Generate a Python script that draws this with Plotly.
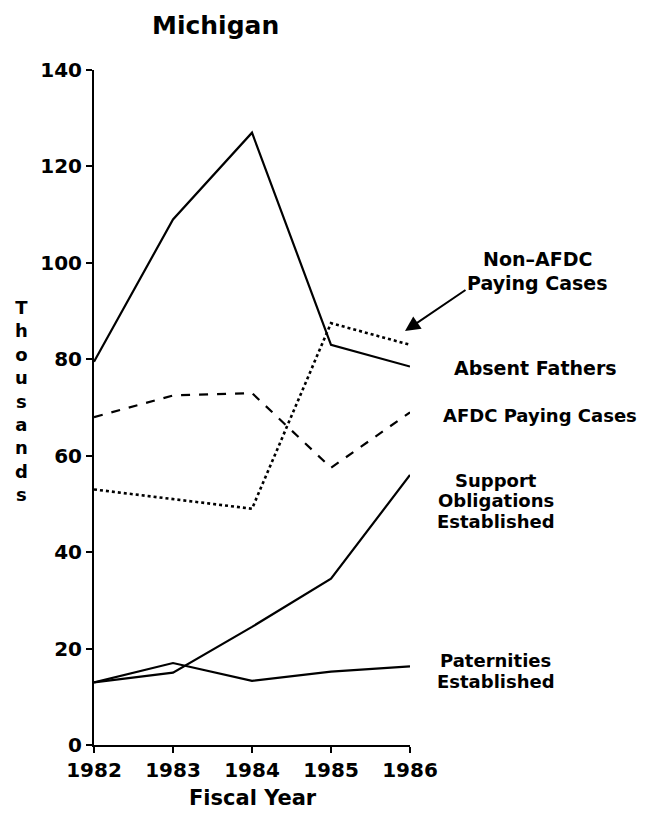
import plotly.graph_objects as go

years = [1982, 1983, 1984, 1985, 1986]
absent_fathers = [79.5, 109, 127, 83, 78.5]
afdc_paying = [68, 72.5, 73, 57.5, 69]
non_afdc_paying = [53, 51, 49, 87.5, 83]
support_obligations = [13, 15, 24.5, 34.5, 56]
paternities = [13, 17, 13.3, 15.2, 16.3]
y_ticks = [0, 20, 40, 60, 80, 100, 120, 140]

FONT = "DejaVu Sans"
OFF = 8  # page body margin
L, R, T, B = 94, 410, 70, 745  # screen pixel positions of the plot area
W, H = 650 - OFF, 813 - OFF


def xp(px):
    return (px - L) / (R - L)


def yp(py):
    return (B - py) / (B - T)


fig = go.Figure()
fig.add_trace(go.Scatter(x=years, y=absent_fathers, mode="lines",
                         line=dict(color="black", width=2.2), name="Absent Fathers"))
fig.add_trace(go.Scatter(x=years, y=afdc_paying, mode="lines",
                         line=dict(color="black", width=2.2, dash="dash"), name="AFDC Paying Cases"))
fig.add_trace(go.Scatter(x=years, y=non_afdc_paying, mode="lines",
                         line=dict(color="black", width=2.6, dash="dot"), name="Non-AFDC Paying Cases"))
fig.add_trace(go.Scatter(x=years, y=support_obligations, mode="lines",
                         line=dict(color="black", width=2.2), name="Support Obligations Established"))
fig.add_trace(go.Scatter(x=years, y=paternities, mode="lines",
                         line=dict(color="black", width=2.2), name="Paternities Established"))


def f(size):
    return dict(family=FONT, size=size, color="black", weight="bold")


annots = [
    ("Michigan", 215, 26, 25),
    ("Fiscal Year", 253, 798, 21),
    ("<br>".join(list("Thousands")), 21, 401, 18),
    ("Non\u2013AFDC", 537, 259, 19),
    ("Paying Cases", 537, 283, 19),
    ("Absent Fathers", 535, 368, 19),
    ("AFDC Paying Cases", 540, 415, 18),
    ("Support", 496, 480, 18),
    ("Obligations", 496, 500, 18),
    ("Established", 496, 521, 18),
    ("Paternities", 496, 660, 18),
    ("Established", 496, 681, 18),
]
for text, x, y, s in annots:
    fig.add_annotation(xref="paper", yref="paper", showarrow=False,
                       xanchor="center", yanchor="middle",
                       text=text, x=xp(x), y=yp(y), font=f(s))

# arrow pointing to the Non-AFDC line
fig.add_annotation(xref="paper", yref="paper", x=xp(405), y=yp(331), text="",
                   showarrow=True, ax=62, ay=-42, arrowhead=2, arrowsize=1.5,
                   arrowwidth=2, arrowcolor="black")

axis_common = dict(showgrid=False, zeroline=False, showline=True, linecolor="black",
                   linewidth=2, ticks="outside", ticklen=6, tickwidth=2, tickcolor="black",
                   tickfont=f(20))

fig.update_layout(
    width=W, height=H,
    margin=dict(l=L - OFF, r=W - (R - OFF), t=T - OFF, b=H - (B - OFF)),
    plot_bgcolor="white", paper_bgcolor="white",
    showlegend=False,
    xaxis=dict(range=[1982, 1986], tickvals=years, ticktext=[str(y) for y in years], **axis_common),
    yaxis=dict(range=[0, 140], tickvals=y_ticks, **axis_common),
)

fig.write_html("out.html")
